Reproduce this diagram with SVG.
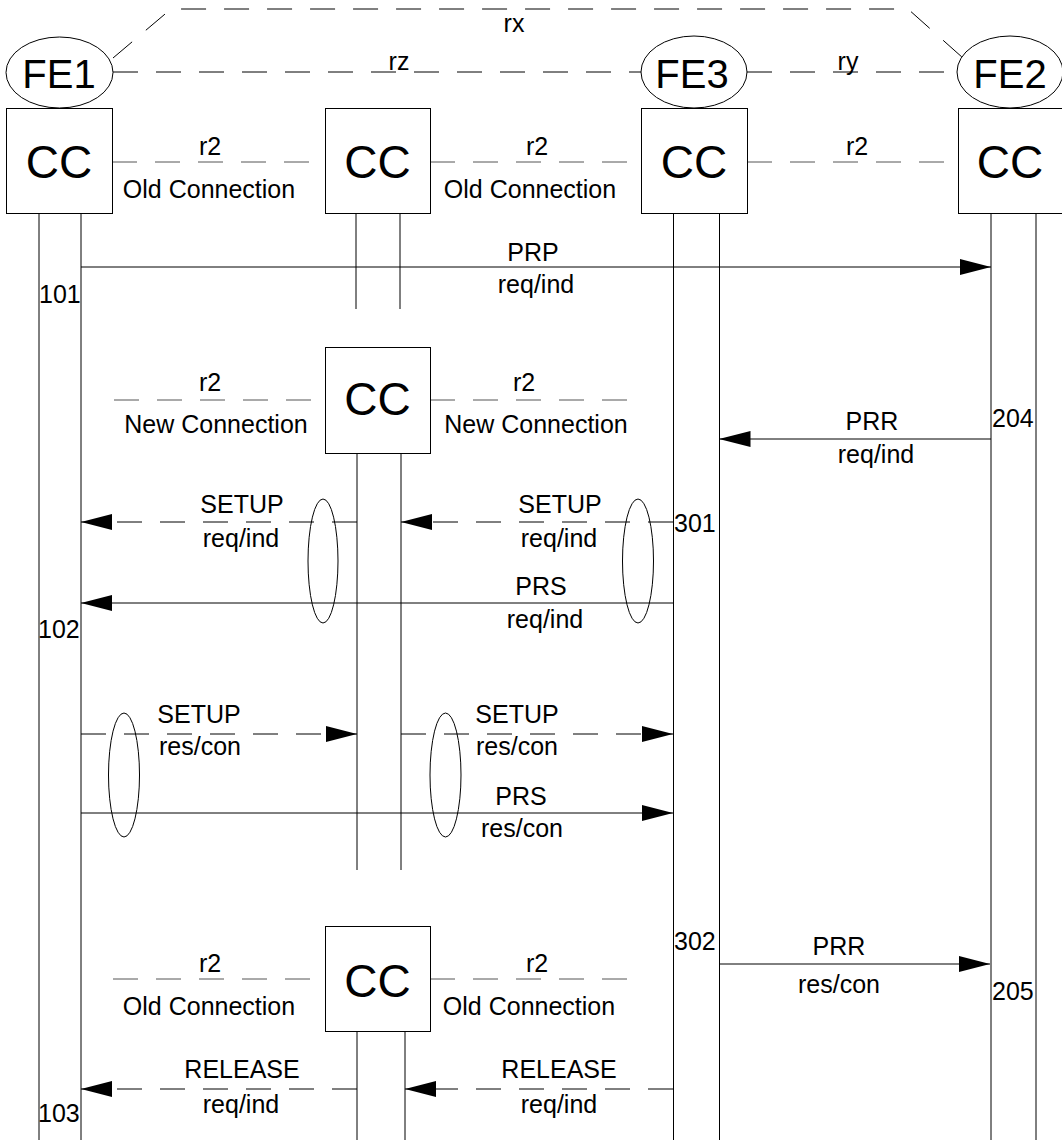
<svg xmlns="http://www.w3.org/2000/svg" width="1062" height="1140" viewBox="0 0 1062 1140">
<style>
text{font-family:"Liberation Sans",Arial,sans-serif;fill:#000}
.t{font-size:25px;text-anchor:middle}
.n{font-size:25px;text-anchor:start}
.fe{font-size:40px;text-anchor:middle}
.cc{font-size:46px;text-anchor:middle}
.box{fill:#fff;stroke:#000;stroke-width:1}
.ell{fill:none;stroke:#000;stroke-width:1}
.life{stroke:#000;stroke-width:1;fill:none}
.sol{stroke:#000;stroke-width:1;fill:none}
.dash{stroke:#000;stroke-width:1;fill:none;stroke-dasharray:25 18}
.rdash{stroke:#555;stroke-width:1;fill:none;stroke-dasharray:25 18}
</style>
<defs>
<marker id="ah" markerWidth="31" markerHeight="16" refX="31" refY="8" orient="auto" markerUnits="userSpaceOnUse">
<path d="M0,0 L31,8 L0,16 z" fill="#000"/>
</marker>
</defs>
<rect width="1062" height="1140" fill="#fff"/>

<g id="lifelines">
<line class="life" x1="39" y1="213" x2="39" y2="1140"/>
<line class="life" x1="81" y1="213" x2="81" y2="1140"/>
<line class="life" x1="356" y1="214" x2="356" y2="309"/>
<line class="life" x1="400" y1="214" x2="400" y2="309"/>
<line class="life" x1="357" y1="454" x2="357" y2="870"/>
<line class="life" x1="401" y1="454" x2="401" y2="870"/>
<line class="life" x1="357" y1="1031" x2="357" y2="1140"/>
<line class="life" x1="405" y1="1031" x2="405" y2="1140"/>
<line class="life" x1="673.5" y1="214" x2="673.5" y2="1140"/>
<line class="life" x1="719.5" y1="214" x2="719.5" y2="1140"/>
<line class="life" x1="991" y1="213" x2="991" y2="1140"/>
<line class="life" x1="1036" y1="213" x2="1036" y2="1140"/>
</g>

<g id="connectors">
<path class="dash" d="M113,58 L171,9 L908,9 L963,58"/>
<text class="t" x="514" y="32">rx</text>
<line class="dash" x1="113" y1="72" x2="641" y2="72"/>
<text class="t" x="399" y="70">rz</text>
<line class="dash" x1="747" y1="72" x2="957" y2="72"/>
<text class="t" x="848" y="70">ry</text>

<line class="rdash" x1="112" y1="162" x2="325" y2="162"/>
<line class="rdash" x1="430" y1="162" x2="641" y2="162"/>
<line class="rdash" x1="747" y1="162" x2="958" y2="162"/>
<text class="t" x="210" y="155">r2</text>
<text class="t" x="537" y="155">r2</text>
<text class="t" x="857" y="155">r2</text>
<text class="t" x="209" y="198">Old Connection</text>
<text class="t" x="530" y="198">Old Connection</text>

<line class="sol" x1="81" y1="267" x2="991" y2="267" marker-end="url(#ah)"/>
<text class="t" x="533" y="261">PRP</text>
<text class="t" x="536" y="293">req/ind</text>
<text class="n" x="39" y="303">101</text>

<line class="rdash" x1="114" y1="400" x2="325" y2="400"/>
<line class="rdash" x1="430" y1="400" x2="642" y2="400"/>
<text class="t" x="210" y="391">r2</text>
<text class="t" x="524" y="391">r2</text>
<text class="t" x="216" y="433">New Connection</text>
<text class="t" x="536" y="433">New Connection</text>

<line class="sol" x1="991" y1="439" x2="719.5" y2="439" marker-end="url(#ah)"/>
<text class="t" x="872" y="430">PRR</text>
<text class="t" x="876" y="463">req/ind</text>
<text class="n" x="992" y="427">204</text>

<line class="dash" x1="357" y1="522" x2="81" y2="522" marker-end="url(#ah)"/>
<line class="dash" x1="673" y1="522" x2="401" y2="522" marker-end="url(#ah)"/>
<text class="t" x="242" y="513">SETUP</text>
<text class="t" x="241" y="547">req/ind</text>
<text class="t" x="560" y="513">SETUP</text>
<text class="t" x="559" y="547">req/ind</text>
<text class="n" x="674" y="532">301</text>

<line class="sol" x1="673" y1="603" x2="81" y2="603" marker-end="url(#ah)"/>
<text class="t" x="541" y="595">PRS</text>
<text class="t" x="545" y="628">req/ind</text>
<text class="n" x="38" y="638">102</text>

<line class="dash" x1="81" y1="734" x2="357" y2="734" marker-end="url(#ah)"/>
<line class="dash" x1="401" y1="734" x2="673" y2="734" marker-end="url(#ah)"/>
<text class="t" x="199" y="723">SETUP</text>
<text class="t" x="200" y="755">res/con</text>
<text class="t" x="517" y="723">SETUP</text>
<text class="t" x="517" y="755">res/con</text>

<line class="sol" x1="81" y1="813" x2="673" y2="813" marker-end="url(#ah)"/>
<text class="t" x="521" y="805">PRS</text>
<text class="t" x="522" y="837">res/con</text>

<line class="sol" x1="719.5" y1="964" x2="990" y2="964" marker-end="url(#ah)"/>
<text class="t" x="839" y="955">PRR</text>
<text class="t" x="839" y="993">res/con</text>
<text class="n" x="674" y="950">302</text>
<text class="n" x="992" y="1000">205</text>

<line class="rdash" x1="113" y1="979" x2="325" y2="979"/>
<line class="rdash" x1="430" y1="979" x2="642" y2="979"/>
<text class="t" x="210" y="972">r2</text>
<text class="t" x="537" y="972">r2</text>
<text class="t" x="209" y="1015">Old Connection</text>
<text class="t" x="529" y="1015">Old Connection</text>

<line class="dash" x1="357" y1="1089" x2="81" y2="1089" marker-end="url(#ah)"/>
<line class="dash" x1="673" y1="1089" x2="405" y2="1089" marker-end="url(#ah)"/>
<text class="t" x="242" y="1078">RELEASE</text>
<text class="t" x="241" y="1113">req/ind</text>
<text class="t" x="559" y="1078">RELEASE</text>
<text class="t" x="559" y="1113">req/ind</text>
<text class="n" x="38" y="1122">103</text>

<ellipse class="ell" cx="323" cy="561" rx="15" ry="62"/>
<ellipse class="ell" cx="638" cy="561" rx="15.5" ry="62"/>
<ellipse class="ell" cx="124" cy="775" rx="15.5" ry="62"/>
<ellipse class="ell" cx="445.5" cy="775" rx="15.5" ry="62"/>
</g>

<g id="FE1"><ellipse class="ell" cx="59.5" cy="72.5" rx="53.5" ry="35.5" fill="#fff"/><text class="fe" x="59" y="88">FE1</text></g>
<g id="FE3"><ellipse class="ell" cx="694" cy="72" rx="53" ry="36"/><text class="fe" x="692" y="88">FE3</text></g>
<g id="FE2"><ellipse class="ell" cx="1010" cy="72" rx="53" ry="36"/><text class="fe" x="1010" y="88">FE2</text></g>

<g id="CC1"><rect class="box" x="6.5" y="108.5" width="106" height="105"/><text class="cc" x="59" y="178">CC</text></g>
<g id="CC2"><rect class="box" x="325.5" y="108.5" width="105" height="105"/><text class="cc" x="377.5" y="178">CC</text></g>
<g id="CC3"><rect class="box" x="641.5" y="108.5" width="106" height="105"/><text class="cc" x="694" y="178">CC</text></g>
<g id="CC4"><rect class="box" x="958.5" y="108.5" width="106" height="105"/><text class="cc" x="1010" y="178">CC</text></g>
<g id="CC_new"><rect class="box" x="325.5" y="347.5" width="105" height="106"/><text class="cc" x="377.5" y="415">CC</text></g>
<g id="CC_old"><rect class="box" x="325.5" y="926.5" width="105" height="105"/><text class="cc" x="377.5" y="997">CC</text></g>
</svg>
